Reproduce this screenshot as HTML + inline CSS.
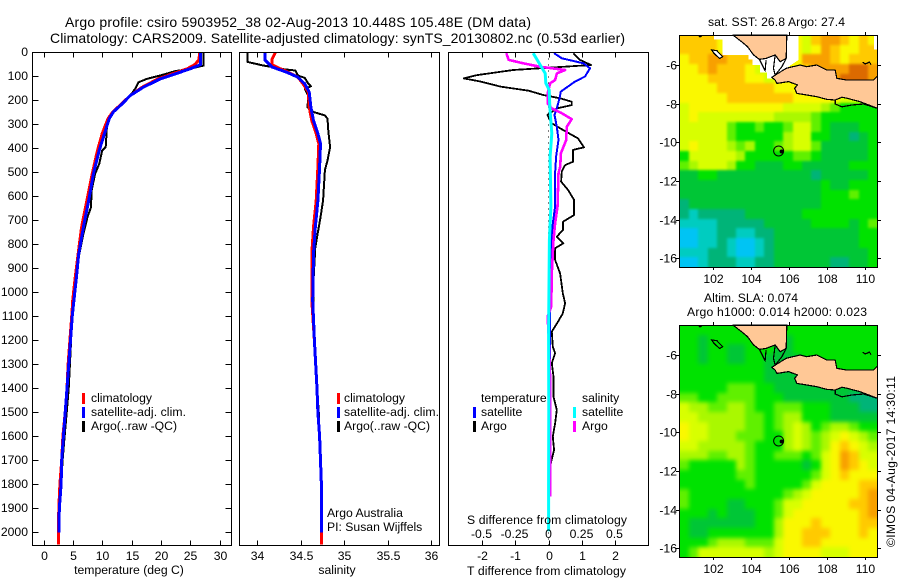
<!DOCTYPE html>
<html>
<head>
<meta charset="utf-8">
<title>Argo profile</title>
<style>
html,body{margin:0;padding:0;background:#fff;}
svg{display:block;font-family:"Liberation Sans",sans-serif;font-size:12.2px;fill:#000;}
</style>
</head>
<body>
<svg id="fig" xmlns="http://www.w3.org/2000/svg" width="900" height="580" viewBox="0 0 900 580">
  <defs>
    <clipPath id="map-clip-0"><rect x="680" y="36" width="197" height="231"/></clipPath>
    <clipPath id="map-clip-290"><rect x="680" y="326" width="197" height="231"/></clipPath>
    <filter id="soft-sst" filterUnits="userSpaceOnUse" x="640" y="0" width="260" height="580" color-interpolation-filters="sRGB"><feGaussianBlur stdDeviation="1.4"/></filter>
    <filter id="soft-sla" filterUnits="userSpaceOnUse" x="640" y="0" width="260" height="580" color-interpolation-filters="sRGB"><feGaussianBlur stdDeviation="2.2"/></filter>
  </defs>
  <rect x="0" y="0" width="900" height="580" fill="#fff"/>
  <g id="charts"></g>
  <g>
    <text x="65" y="27" font-size="14" textLength="466">Argo profile: csiro 5903952_38 02-Aug-2013 10.448S 105.48E (DM data)</text>
    <text x="50" y="43" font-size="14" textLength="575">Climatology: CARS2009. Satellite-adjusted climatology: synTS_20130802.nc (0.53d earlier)</text>
    <text x="129" y="574" text-anchor="middle">temperature (deg C)</text>
    <text x="337" y="574" text-anchor="middle">salinity</text>
    <text x="467" y="575" textLength="159">T difference from climatology</text>
    <text x="467" y="524" textLength="160">S difference from climatology</text>
    <text x="91" y="402">climatology</text>
    <text x="91" y="416" textLength="95">satellite-adj. clim.</text>
    <text x="91" y="430">Argo(..raw -QC)</text>
    <text x="344" y="402">climatology</text>
    <text x="344" y="416" textLength="95">satellite-adj. clim.</text>
    <text x="344" y="430">Argo(..raw -QC)</text>
    <text x="327" y="517">Argo Australia</text>
    <text x="327" y="531">PI: Susan Wijffels</text>
    <text x="481" y="402">temperature</text>
    <text x="481" y="416">satellite</text>
    <text x="481" y="430">Argo</text>
    <text x="582" y="402">salinity</text>
    <text x="582" y="416">satellite</text>
    <text x="582" y="430">Argo</text>
    <text x="708" y="26" textLength="137">sat. SST: 26.8 Argo: 27.4</text>
    <text x="704" y="302" textLength="94">Altim. SLA: 0.074</text>
    <text x="687" y="316" textLength="180">Argo h1000: 0.014 h2000: 0.023</text>
    <text transform="translate(895 547) rotate(-90)" textLength="171">©IMOS 04-Aug-2017 14:30:11</text>
  </g>
</svg>
<script>
// ---- temperature profile data ----
var tArgoDepth = [0,54,68,78,96,110,124,152,179,214,248,270,311,394,408,464,506,575,645,686,756,840,937,1033,1100,1200,1300,1400,1500,1600,1700,1800,1870];
var tArgoVal = [27.3,27.3,25,22.4,19.9,17.6,16.2,15.6,14.8,13.4,11.9,11.2,10.8,10.6,10,9.5,8.8,8.2,8.1,7.5,6.8,6.1,5.6,5.2,4.9,4.7,4.5,4.3,3.95,3.6,3.25,3,2.85];
var tClimDepth = [0,30,50,68,82,110,145,179,214,248,276,338,408,506,617,728,840,937,1030,1100,1200,1300,1400,1500,1600,1700,1800,1900,2000,2050];
var tClimVal = [26.6,26.5,25.8,24.5,22.8,19.5,16.8,14.8,13.3,11.8,11,10,9.2,8.3,7.4,6.5,5.9,5.4,5,4.8,4.5,4.2,4,3.7,3.3,3.1,2.8,2.6,2.55,2.55];
var tSatDepth = [0,50,68,82,110,145,179,214,248,276,338,408,506,617,728,840,937,1030,1100,1200,1300,1400,1500,1600,1700,1800,1900,2000];
var tSatVal = [26.8,26.8,25,23.3,19.9,17,14.8,13.4,11.9,11.2,10.4,9.5,8.5,7.7,6.8,6,5.6,5.2,4.9,4.6,4.3,4,3.7,3.4,3.1,3,2.7,2.65];
// ---- salinity profile data ----
var sArgoDepth = [0,39,54,60,68,75,96,106,130,141,152,180,228,248,262,276,326,394,450,490,615,687,727,812,950,1033,1100,1200,1300,1400,1500,1600,1700,1800];
var sArgoVal = [33.89,33.89,34.07,34.17,34.26,34.44,34.47,34.55,34.59,34.62,34.55,34.59,34.58,34.65,34.78,34.81,34.82,34.84,34.81,34.78,34.76,34.73,34.71,34.67,34.65,34.65,34.65,34.66,34.68,34.69,34.71,34.72,34.73,34.74];
var sClimDepth = [0,30,50,65,82,103,131,165,228,284,338,380,478,617,728,840,1033,1200,1400,1500,1600,1700,1800,2000,2050];
var sClimVal = [34.21,34.17,34.17,34.25,34.36,34.47,34.53,34.59,34.6,34.63,34.68,34.71,34.7,34.68,34.65,34.63,34.63,34.66,34.69,34.7,34.72,34.73,34.74,34.74,34.74];
var sSatDepth = [0,30,60,82,103,131,165,228,284,338,380,478,617,728,840,1033,1200,1400,1500,1600,1700,1800,2000];
var sSatVal = [34.09,34.09,34.17,34.34,34.47,34.55,34.6,34.62,34.65,34.7,34.73,34.72,34.7,34.67,34.65,34.64,34.66,34.69,34.7,34.72,34.73,34.74,34.74];
// ---- difference data ----
var dtArgoDepth = [3,31,52,73,94,108,121,142,159,177,191,205,219,233,260,295,323,358,395,406,434,455,469,496,538,573,614,677,705,739,767,795,816,864,920,1003,1045,1087,1128,1163,1226,1253,1295,1351,1434,1490,1545,1601,1656,1712];
var dtArgoVal = [0.75,0.95,1.28,-1.06,-2.15,-2.55,-2.05,-1.45,-0.6,-0.16,0.35,0.7,0.7,0.25,-0.03,0.1,0.44,0.89,1.07,0.74,0.74,0.74,0.5,0.4,0.38,0.59,0.77,0.77,0.44,0.44,0.25,0.45,0.2,0.2,0.35,0.43,0.5,0.43,0.26,0.1,0.13,0.2,0.1,0.15,0.15,0.25,0.2,0.13,0.17,0.07];
var dtSatDepth = [3,24,45,66,100,121,163,191,233,260,309,364,434,503,642,712,809,920,1059,1163,1400,1851];
var dtSatVal = [0.17,0.4,1.05,1.25,1.1,0.8,0.37,0.33,0.25,0.18,0.25,0.3,0.23,0.2,0.2,0.13,0.07,0.07,0.05,0.05,0.05,0.05];
var dsArgoDepth = [3,31,45,59,73,87,115,128,170,212,233,253,278,309,364,420,476,503,642,712,781,920,1059,1101,1163,1366,1851];
var dsArgoVal = [-0.318,-0.3,-0.19,-0.065,0.125,0.063,0.05,0.013,-0.007,-0.007,0.025,0.1,0.175,0.138,0.133,0.093,0.088,0.075,0.068,0.05,0.038,0.025,0.02,-0.007,0,0.013,0.012];
var dsSatDepth = [3,31,87,128,156,226,337,434,642,781,1163,1500,1800,1995];
var dsSatVal = [-0.115,-0.085,-0.025,-0.02,0.005,0.01,0.025,0.012,0.018,0.007,0.001,0.002,0.001,0.001];
// ---- tick labels ----
var depthTicks = [0,100,200,300,400,500,600,700,800,900,1000,1100,1200,1300,1400,1500,1600,1700,1800,1900,2000];
var tempTicks = [0,5,10,15,20,25,30];
var salTicks = [34,34.5,35,35.5,36];
var dtTicks = [-2,-1,0,1,2];
var dsTickLabels = ['-0.5','-0.25','0','0.25','0.5'];
var lonTicks = [102,104,106,108,110];
var latTicks = [-6,-8,-10,-12,-14,-16];
// ---- map grids: colour level per 0.5 degree cell, north to south ----
var sstGrid = [
[9,9,9,9,8,8,8,8,8,8,8,8,8,7,9,10,10,9,8,9,8],
[9,9,9,9,8,8,8,8,8,8,8,8,8,7,8,10,9,8,8,9,9],
[8,9,9,10,10,9,9,9,8,8,8,8,8,10,10,10,9,8,9,9,9],
[8,8,9,10,9,9,9,8,7,7,8,8,8,9,10,10,10,10,11,11,10],
[8,8,8,9,9,9,9,8,8,7,8,8,8,8,10,10,10,11,11,11,10],
[8,8,8,8,9,9,9,9,9,9,8,8,8,8,8,8,8,8,8,8,8],
[8,8,8,8,8,9,9,9,9,9,9,9,8,8,8,8,8,7,7,7,6],
[7,8,8,8,8,8,8,8,8,8,8,7,7,7,7,6,5,4,4,4,4],
[7,8,7,7,7,7,7,7,7,7,6,6,6,6,5,4,4,4,4,4,4],
[7,7,7,7,7,5,4,4,5,4,4,5,7,7,5,4,3,3,3,4,4],
[7,7,7,7,7,5,4,4,4,4,4,6,7,7,4,4,3,3,2,3,4],
[7,8,7,7,7,6,5,6,4,4,5,6,7,7,5,3,3,3,3,3,4],
[4,7,7,7,7,7,6,4,4,4,4,4,5,5,4,3,3,3,3,3,4],
[5,6,7,7,7,6,4,4,3,3,3,4,4,3,3,3,3,3,4,4,4],
[3,3,4,4,3,3,3,3,3,3,3,3,3,3,2,3,3,3,3,3,4],
[3,3,3,3,3,3,3,3,3,3,3,3,3,3,3,4,3,3,4,4,4],
[3,3,3,3,3,3,3,3,3,3,3,3,3,3,3,4,4,4,5,4,4],
[2,3,3,3,3,3,3,3,3,3,3,3,3,3,3,4,4,4,4,4,4],
[2,1,2,2,2,2,2,3,3,3,3,3,3,4,4,4,4,4,4,4,4],
[1,1,1,1,2,2,2,2,2,3,3,3,3,3,4,4,4,4,3,4,5],
[0,0,1,1,2,2,1,1,2,2,3,3,3,3,3,3,3,3,3,4,4],
[0,0,1,1,2,1,0,0,1,2,3,3,3,3,3,3,3,3,3,4,4],
[1,1,1,2,2,1,0,0,1,2,3,3,3,3,3,3,3,3,3,3,4],
[0,0,1,2,2,2,1,1,2,2,3,3,3,3,3,3,2,2,3,3,4]
];
var slaGrid = [
[4,4,4,4,4,4,4,4,4,4,4,4,4,4,4,4,4,4,4,4,4],
[4,4,3,4,4,4,4,4,4,4,4,3,4,4,4,4,4,4,4,4,4],
[4,4,3,4,4,3,3,4,4,4,3,3,4,4,4,4,4,4,4,4,4],
[4,4,3,4,4,3,3,4,4,3,3,3,3,4,4,4,4,4,4,4,4],
[4,4,4,4,4,4,4,4,4,3,3,3,3,4,4,4,4,4,4,4,4],
[4,4,4,4,4,4,4,4,4,3,3,3,3,3,3,4,4,4,4,4,4],
[4,4,4,4,4,5,5,5,4,4,3,3,3,3,3,3,3,3,3,3,3],
[5,5,4,4,5,5,5,5,4,4,4,3,3,3,3,3,3,3,2,2,2],
[7,6,6,5,5,6,6,5,4,4,5,5,5,4,4,4,3,3,3,2,2],
[7,7,6,6,6,6,6,5,5,4,5,6,6,4,4,4,3,3,3,3,3],
[8,7,7,6,6,6,6,5,5,4,5,6,7,6,4,5,6,6,5,4,4],
[8,7,7,6,6,6,5,5,5,4,4,6,7,6,5,6,7,8,7,6,5],
[7,7,6,6,6,6,6,5,4,4,4,6,7,6,5,6,8,9,8,7,6],
[6,6,6,5,5,6,6,5,4,4,5,5,5,4,5,7,8,10,9,7,7],
[5,4,4,4,4,4,6,5,4,4,4,4,4,3,4,7,8,10,9,8,7],
[4,4,4,4,4,4,5,5,4,4,4,4,4,4,5,7,8,9,8,8,8],
[4,4,4,4,4,4,4,5,4,4,4,4,4,5,7,8,8,8,8,9,9],
[5,4,4,4,4,4,4,4,4,4,4,5,6,7,8,8,8,8,8,9,10],
[5,4,4,4,4,3,3,4,4,4,5,7,7,8,8,8,8,8,9,9,10],
[4,4,4,3,4,3,3,3,4,4,5,7,8,8,8,8,8,8,8,9,10],
[4,3,3,3,3,3,3,3,4,4,6,8,8,8,9,8,8,8,8,9,9],
[4,3,3,4,4,4,4,4,4,4,6,8,8,9,9,9,8,8,8,9,8],
[4,4,4,5,6,6,6,5,5,5,7,8,8,9,9,8,8,8,8,8,8],
[4,5,7,7,7,7,7,7,7,6,7,8,8,8,8,7,7,7,8,8,8]
];
var levelColours = ['#00c4f4','#00ccc0','#00b478','#00c636','#00e200','#60f000','#aaf800','#d8ff00','#faf800','#ffca00','#f8a000','#dc6a00'];
// ---- geography, [lon, lat] ----
var sumatraCoast = [[103.07,-4.45],[103.46,-4.74],[103.84,-5.05],[104.16,-5.48],[104.47,-5.71],[104.82,-5.66],[105.3,-5.48],[105.56,-5.83],[105.88,-5.66],[105.91,-4.45]];
var javaCoast = [[105.3,-6.78],[105.12,-6.64],[105.3,-6.52],[105.88,-6.17],[106.61,-6],[106.96,-6.09],[107.49,-6],[108.02,-6.26],[108.46,-6.26],[108.54,-6.69],[109.07,-6.78],[110.47,-6.78],[110.68,-6.57],[110.68,-8.24],[109.77,-7.9],[109.07,-7.72],[108.81,-7.67],[108.46,-7.81],[108.02,-7.78],[107.49,-7.64],[106.96,-7.55],[106.44,-7.47],[106.32,-7.21],[106.47,-7.03],[106,-6.86],[105.39,-6.95]];
var southCoast = [[108.46,-7.81],[108.46,-8.02],[108.81,-8.16],[109.33,-8.07],[109.95,-8.02],[110.68,-8.24]];
var islandCoast = [[101.96,-5.22],[102.23,-5.26],[102.53,-5.57],[102.37,-5.67],[102.05,-5.36],[101.96,-5.22]];
var straitLineA = [[104.47,-5.71],[104.77,-6.29],[104.82,-5.73]];
var straitLineB = [[105.3,-5.48],[105.21,-6.17],[105.3,-6.52]];
var straitLineC = [[105.88,-5.66],[105.65,-6.09],[105.3,-6.52]];
var islandletA = [[109.9,-5.85],[110.05,-5.95],[110.25,-5.85],[110.35,-5.98]];
var islandletB = [[101.25,-4.47],[101.35,-4.55],[101.45,-4.47]];
var noDataWest = [[102.09,-4.45],[103.07,-4.45],[103.84,-5.05],[104.47,-5.71],[105.3,-5.48],[105.3,-6.69],[104.86,-6.69],[104.86,-6.4],[104.51,-6.4],[104.51,-6],[104.11,-6],[104.11,-5.71],[103.89,-5.71],[103.89,-5.48],[102.53,-5.48],[102.53,-4.67],[102.09,-4.67]];
var noDataStrait = [[105.88,-4.45],[106.53,-4.45],[106.53,-5.74],[105.88,-6.17],[105.3,-6.69],[105.3,-5.48],[105.88,-5.66]];
var noDataEast = [[110.5,-4.45],[110.68,-4.45],[110.68,-5.2],[110.5,-5.2]];
var argoPosition = [105.48,-10.448];

var NS = 'http://www.w3.org/2000/svg';
var root = document.getElementById('charts');
function make(tag, attrs, parent) {
  var el = document.createElementNS(NS, tag);
  for (var k in attrs) el.setAttribute(k, attrs[k]);
  (parent || root).appendChild(el);
  return el;
}
function depthY(d) { return 52.5 + d * 0.24; }
function tempX(t) { return 43.5 + t * 5.867; }
function salX(s) { return 257 + (s - 34) * 87; }
function dtX(v) { return 548.5 + v * 33.2; }
function dsX(v) { return 548.5 + v * 132.8; }

function drawProfile(parent, name, xf, depths, vals, colour, width, rendering) {
  var pts = depths.map(function (d, i) { return xf(vals[i]).toFixed(1) + ',' + depthY(d).toFixed(1); }).join(' ');
  var el = make('polyline', { points: pts, fill: 'none', stroke: colour, 'stroke-width': width, 'stroke-linejoin': 'round', 'shape-rendering': rendering || 'crispEdges' }, parent);
  
  
}
function drawFrame(parent, x0, y0, x1, y1) {
  var el = make('rect', { x: x0, y: y0, width: x1 - x0, height: y1 - y0, fill: 'none', stroke: '#000', 'stroke-width': 1, 'shape-rendering': 'crispEdges' }, parent);
  
  
}
function drawTick(parent, x1, y1, x2, y2) {
  var el = make('line', { x1: x1, y1: y1, x2: x2, y2: y2, stroke: '#000', 'stroke-width': 1, 'shape-rendering': 'crispEdges' }, parent);
  
  
}
function drawLabel(parent, x, y, txt, anchor) {
  var el = make('text', { x: x, y: y, 'text-anchor': anchor }, parent);
  el.textContent = txt;
  
  
}
function drawKey(parent, x, y, colour) {
  var el = make('rect', { x: x, y: y, width: 3, height: 11, fill: colour, 'shape-rendering': 'crispEdges' }, parent);
  
  
}

var T = 52.5, B = 545.5;

// ---- temperature panel ----
var p1 = make('g', {});


drawProfile(p1, 'temperature-argo-line', tempX, tArgoDepth, tArgoVal, '#000', 2);
drawProfile(p1, 'temperature-climatology-line', tempX, tClimDepth, tClimVal, '#f00', 3);
drawProfile(p1, 'temperature-satellite-line', tempX, tSatDepth, tSatVal, '#00f', 3);
drawFrame(p1, 32.5, T, 231.5, B);
depthTicks.forEach(function (d) {
  var y = Math.floor(depthY(d)) + 0.5;
  drawTick(p1, 32.5, y, 38.5, y);
  drawTick(p1, 225.5, y, 231.5, y);
  drawLabel(p1, 28, y + 3.5, String(d), 'end');
});
tempTicks.forEach(function (t) {
  var x = Math.round(tempX(t)) + 0.5;
  drawTick(p1, x, T, x, T + 5);
  drawTick(p1, x, B - 5, x, B);
  drawLabel(p1, x, 560, String(t), 'middle');
});
drawKey(p1, 82, 393, '#f00');
drawKey(p1, 82, 407, '#00f');
drawKey(p1, 82, 421, '#000');

// ---- salinity panel ----
var p2 = make('g', {});


drawProfile(p2, 'salinity-argo-line', salX, sArgoDepth, sArgoVal, '#000', 2);
drawProfile(p2, 'salinity-climatology-line', salX, sClimDepth, sClimVal, '#f00', 3);
drawProfile(p2, 'salinity-satellite-line', salX, sSatDepth, sSatVal, '#00f', 3);
drawFrame(p2, 239.5, T, 439.5, B);
salTicks.forEach(function (s) {
  var x = Math.round(salX(s)) + 0.5;
  drawTick(p2, x, T, x, T + 5);
  drawTick(p2, x, B - 5, x, B);
  drawLabel(p2, x, 560, String(s), 'middle');
});
drawKey(p2, 337, 393, '#f00');
drawKey(p2, 337, 407, '#00f');
drawKey(p2, 337, 421, '#000');

// ---- difference panel ----
var p3 = make('g', {});


var zeroLine = make('line', { x1: dtX(0), y1: T, x2: dtX(0), y2: B, stroke: '#000', 'stroke-width': 1, 'stroke-dasharray': '1 5', 'shape-rendering': 'crispEdges' }, p3);


drawProfile(p3, 't-diff-argo-line', dtX, dtArgoDepth, dtArgoVal, '#000', 1.8);
drawProfile(p3, 't-diff-satellite-line', dtX, dtSatDepth, dtSatVal, '#00f', 2);
drawProfile(p3, 's-diff-argo-line', dsX, dsArgoDepth, dsArgoVal, '#f0f', 2.6);
drawProfile(p3, 's-diff-satellite-line', dsX, dsSatDepth, dsSatVal, '#0ff', 3, 'geometricPrecision');
drawFrame(p3, 448.5, T, 648.5, B);
dtTicks.forEach(function (v, i) {
  var x = Math.round(dtX(v)) + 0.5;
  drawTick(p3, x, T, x, T + 5);
  drawTick(p3, x, B - 5, x, B);
  drawLabel(p3, x, 560, String(v), 'middle');
  drawLabel(p3, x - 1, 538, dsTickLabels[i], 'middle');
});
drawKey(p3, 473, 407, '#00f');
drawKey(p3, 473, 421, '#000');
drawKey(p3, 573, 407, '#0ff');
drawKey(p3, 573, 421, '#f0f');

// ---- maps ----
function drawMap(name, grid, offsetY, showNoData, softFilter) {
  var lonStart = 100.26, lonSpan = 10.42, latStart = -4.45, latStep = 0.5;
  function lonX(l) { return 712.5 + (l - 102) * 19; }
  function latY(l) { return 65 + offsetY - (l + 6) * 19.33; }
  function pts(list) { return list.map(function (p) { return lonX(p[0]).toFixed(1) + ',' + latY(p[1]).toFixed(1); }).join(' '); }
  var g = make('g', {});
  
  
  var clip = make('g', { 'clip-path': 'url(#map-clip-' + offsetY + ')' }, g);
  
  
  var heat = make('g', { filter: 'url(#' + softFilter + ')' }, clip);
  
  
  var cols = grid[0].length;
  var rows = grid.length;
  grid.forEach(function (row, r) {
    row.forEach(function (v, c) {
      var x0 = Math.round(lonX(lonStart + lonSpan * c / cols));
      var x1 = Math.round(lonX(lonStart + lonSpan * (c + 1) / cols));
      var y0 = Math.round(latY(latStart - latStep * r));
      var y1 = Math.round(latY(latStart - latStep * (r + 1)));
      if (c === 0) x0 -= 14;
      if (c === cols - 1) x1 += 14;
      if (r === 0) y0 -= 14;
      if (r === rows - 1) y1 += 14;
      var cell = make('rect', { x: x0, y: y0, width: x1 - x0, height: y1 - y0, fill: levelColours[v] }, heat);
      
      
    });
  });
  if (showNoData) {
    [noDataWest, noDataStrait, noDataEast].forEach(function (poly) {
      var m = make('polygon', { points: pts(poly), fill: '#fff', 'shape-rendering': 'crispEdges' }, g);
      
      
    });
  }
  [sumatraCoast, javaCoast].forEach(function (poly) {
    var l = make('polygon', { points: pts(poly), fill: '#ffc896', stroke: '#000', 'stroke-width': 1.2, 'stroke-linejoin': 'round', 'shape-rendering': 'crispEdges' }, g);
    
    
  });
  var isl = make('polygon', { points: pts(islandCoast), fill: showNoData ? '#fff' : 'none', stroke: '#000', 'stroke-width': 1.2, 'shape-rendering': 'crispEdges' }, g);
  
  
  [southCoast, straitLineA, straitLineB, straitLineC, islandletA, islandletB].forEach(function (line) {
    var c = make('polyline', { points: pts(line), fill: 'none', stroke: '#000', 'stroke-width': 1.2, 'shape-rendering': 'crispEdges' }, g);
    
    
  });
  var ring = make('circle', { cx: lonX(argoPosition[0]), cy: latY(argoPosition[1]), r: 5, fill: 'none', stroke: '#000', 'stroke-width': 1 }, g);
  
  
  var dot = make('circle', { cx: lonX(argoPosition[0]) + 3, cy: latY(argoPosition[1]) + 0.5, r: 2, fill: '#000' }, g);
  
  
  var top = 35 + offsetY, bot = 267 + offsetY;
  drawFrame(g, 679.5, top + 0.5, 877.5, bot + 0.5);
  lonTicks.forEach(function (l) {
    var x = Math.round(lonX(l)) + 0.5;
    drawTick(g, x, top - 3, x, top);
    drawTick(g, x, bot, x, bot + 3);
    drawLabel(g, x, bot + 16, String(l), 'middle');
  });
  latTicks.forEach(function (l) {
    var y = Math.round(latY(l)) + 0.5;
    drawTick(g, 676, y, 679.5, y);
    drawTick(g, 877.5, y, 881, y);
    drawLabel(g, 677, y + 4, String(l), 'end');
  });
}
drawMap('sst-map', sstGrid, 0, true, 'soft-sst');
drawMap('sla-map', slaGrid, 290, false, 'soft-sla');
</script>
</body>
</html>
